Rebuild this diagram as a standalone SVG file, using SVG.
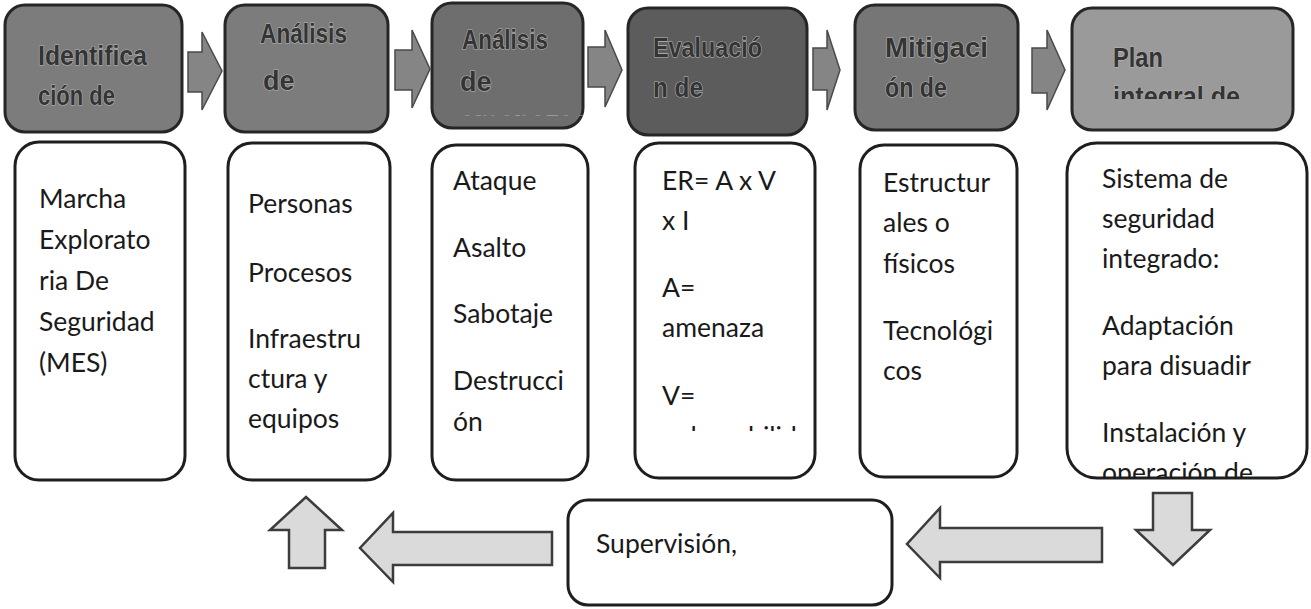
<svg xmlns="http://www.w3.org/2000/svg" width="1311" height="609" viewBox="0 0 1311 609">
<style>
.hdr{stroke:#262626;stroke-width:3}
.box{fill:#fff;stroke:#1e1e1e;stroke-width:3}
.ht{font-family:"Liberation Sans",Arial,sans-serif;font-weight:bold;font-size:27px;fill:#343434;stroke:#b8b8b8;stroke-width:1.2;paint-order:stroke}
.bt{font-family:Lato,"Open Sans",sans-serif;font-size:26.5px;fill:#1a1a1a}
.harr{fill:#858585;stroke:#4a4a4a;stroke-width:1.5}
.barr{fill:#dadada;stroke:#3c3c3c;stroke-width:2.5;stroke-linejoin:miter}
</style>
<defs>
<clipPath id="c3"><rect x="432" y="0" width="151" height="116"/></clipPath>
<clipPath id="c6"><rect x="1072" y="0" width="221" height="99"/></clipPath>
<clipPath id="cb4"><rect x="635" y="140" width="180" height="291"/></clipPath>
<clipPath id="cb6"><rect x="1067" y="140" width="240" height="338"/></clipPath>
</defs>
<rect width="1311" height="609" fill="#fff"/>

<g id="h1">
<rect class="hdr" x="5" y="5" width="177" height="127" rx="20" fill="#7c7c7c"/>
<text class="ht" x="38" y="65" textLength="109" lengthAdjust="spacingAndGlyphs">Identifica</text>
<text class="ht" x="38" y="105" textLength="77" lengthAdjust="spacingAndGlyphs">ción de</text>
</g>
<g id="h2">
<rect class="hdr" x="225" y="5" width="163" height="127" rx="20" fill="#7c7c7c"/>
<text class="ht" x="260" y="43" textLength="87" lengthAdjust="spacingAndGlyphs">Análisis</text>
<text class="ht" x="263" y="90">de</text>
</g>
<g id="h3">
<rect class="hdr" x="432" y="3" width="151" height="125" rx="20" fill="#6e6e6e"/>
<text class="ht" x="462" y="49" textLength="86" lengthAdjust="spacingAndGlyphs">Análisis</text>
<text class="ht" x="460" y="91">de</text>
<text class="ht" x="460" y="131" clip-path="url(#c3)">amenazas</text>
</g>
<g id="h4">
<rect class="hdr" x="628" y="8" width="179" height="127" rx="20" fill="#5c5c5c"/>
<text class="ht" x="653" y="57" textLength="109" lengthAdjust="spacingAndGlyphs">Evaluació</text>
<text class="ht" x="653" y="97" textLength="50" lengthAdjust="spacingAndGlyphs">n de</text>
</g>
<g id="h5">
<rect class="hdr" x="855" y="5" width="163" height="125" rx="20" fill="#767676"/>
<text class="ht" x="885" y="57" textLength="103" lengthAdjust="spacingAndGlyphs">Mitigaci</text>
<text class="ht" x="885" y="97" textLength="62" lengthAdjust="spacingAndGlyphs">ón de</text>
</g>
<g id="h6">
<rect class="hdr" x="1072" y="8" width="221" height="122" rx="20" fill="#9a9a9a"/>
<text class="ht" x="1113" y="67" textLength="50" lengthAdjust="spacingAndGlyphs">Plan</text>
<text class="ht" x="1113" y="106" textLength="127" lengthAdjust="spacingAndGlyphs" clip-path="url(#c6)">integral de</text>
</g>

<g id="b1">
<rect class="box" x="15" y="142" width="170" height="338" rx="24"/>
<text class="bt" x="39" y="208">Marcha</text>
<text class="bt" x="39" y="249">Explorato</text>
<text class="bt" x="39" y="290">ria De</text>
<text class="bt" x="39" y="331">Seguridad</text>
<text class="bt" x="39" y="372">(MES)</text>
</g>
<g id="b2">
<rect class="box" x="228" y="143" width="162" height="337" rx="24"/>
<text class="bt" x="248" y="213">Personas</text>
<text class="bt" x="248" y="282">Procesos</text>
<text class="bt" x="248" y="348">Infraestru</text>
<text class="bt" x="248" y="388">ctura y</text>
<text class="bt" x="248" y="428">equipos</text>
</g>
<g id="b3">
<rect class="box" x="432" y="145" width="156" height="335" rx="24"/>
<text class="bt" x="453" y="190">Ataque</text>
<text class="bt" x="453" y="257">Asalto</text>
<text class="bt" x="453" y="323">Sabotaje</text>
<text class="bt" x="453" y="390">Destrucci</text>
<text class="bt" x="453" y="431">ón</text>
</g>
<g id="b4">
<rect class="box" x="635" y="143" width="180" height="335" rx="24"/>
<text class="bt" x="662" y="190">ER= A x V</text>
<text class="bt" x="662" y="230">x I</text>
<text class="bt" x="662" y="297">A=</text>
<text class="bt" x="662" y="337">amenaza</text>
<text class="bt" x="662" y="405">V=</text>
<text class="bt" x="662" y="446" clip-path="url(#cb4)">vulnerabilidad</text>
</g>
<g id="b5">
<rect class="box" x="860" y="145" width="157" height="332" rx="24"/>
<text class="bt" x="883" y="192">Estructur</text>
<text class="bt" x="883" y="232">ales o</text>
<text class="bt" x="883" y="273">físicos</text>
<text class="bt" x="883" y="340">Tecnológi</text>
<text class="bt" x="883" y="380">cos</text>
</g>
<g id="b6">
<rect class="box" x="1067" y="143" width="240" height="335" rx="30"/>
<text class="bt" x="1102" y="188">Sistema de</text>
<text class="bt" x="1102" y="228">seguridad</text>
<text class="bt" x="1102" y="268">integrado:</text>
<text class="bt" x="1102" y="335">Adaptación</text>
<text class="bt" x="1102" y="375">para disuadir</text>
<text class="bt" x="1102" y="442">Instalación y</text>
<text class="bt" x="1102" y="482" clip-path="url(#cb6)">operación de</text>
</g>
<g id="sup">
<rect class="box" x="568" y="500" width="324" height="105" rx="20"/>
<text class="bt" x="596" y="553">Supervisión,</text>
</g>

<g id="connectors">
<polygon class="harr" points="188,52 202,52 202,32 222,71 202,110 202,92 188,92"/>
<polygon class="harr" points="395,50 412,50 412,30 430,69 412,108 412,90 395,90"/>
<polygon class="harr" points="588,47 605,47 605,30 622,70 605,107 605,87 588,87"/>
<polygon class="harr" points="813,48 827,48 827,30 840,70 827,110 827,90 813,90"/>
<polygon class="harr" points="1032,48 1047,48 1047,30 1065,70 1047,110 1047,93 1032,93"/>
<polygon class="barr" points="1153,493 1192,493 1192,530 1210,530 1173,565 1136,530 1153,530"/>
<polygon class="barr" points="1102,528 1102,562 940,562 940,578 907,544 940,508 940,528"/>
<polygon class="barr" points="552,532 552,565 393,565 393,582 360,548 393,513 393,532"/>
<polygon class="barr" points="289,568 325,568 325,530 342,530 306,497 270,530 289,530"/>
</g>
</svg>
